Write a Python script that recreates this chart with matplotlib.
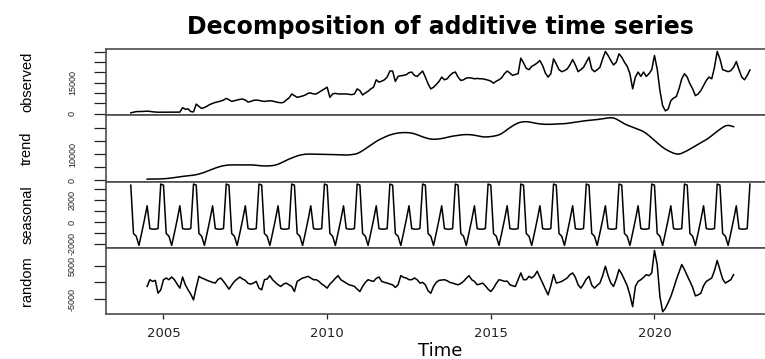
"""Additive decomposition of a monthly series, drawn in the style of R's plot.decomposed.ts."""

import matplotlib

matplotlib.use("Agg")
import matplotlib.pyplot as plt
import numpy as np
from matplotlib import font_manager

# --- data (monthly, Jan 2004 .. Dec 2022) -----------------------------------
START_YEAR = 2004
FREQUENCY = 12

OBSERVED = [
    500, 780, 1100, 1100, 1150, 1200, 1300, 1200, 1000, 900, 800, 800,
    800, 800, 800, 800, 800, 800, 850, 3000, 2230, 2400, 1100, 950,
    4700, 3570, 2600, 3080, 3730, 4540, 5030, 5520, 5840, 6160, 6650, 7470,
    6820, 6000, 6330, 6650, 6980, 7140, 6650, 5680, 6000, 6490, 6650, 6490,
    6160, 6000, 6160, 6330, 6160, 5840, 5520, 5350, 5520, 6650, 7630, 9580,
    8770, 7950, 8280, 8600, 9090, 9900, 10070, 9580, 9580, 10390, 11200, 12010,
    12830, 7950, 9580, 9900, 9580, 9580, 9580, 9580, 9420, 9250, 9580, 12010,
    11200, 9090, 10070, 10880, 12010, 12830, 16400, 15260, 15750, 16400, 17700, 20620,
    20620, 15590, 18030, 18350, 18510, 18840, 19810, 20140, 18510, 18030, 19320, 20620,
    17700, 14450, 12010, 12830, 14130, 15590, 17700, 16400, 16890, 18510, 19650, 20140,
    17700, 16070, 16400, 17210, 17370, 17210, 16890, 17050, 16890, 16890, 16560, 16240,
    15750, 14770, 15750, 16400, 17370, 19320, 20620, 19650, 18510, 19000, 19320, 26790,
    24520, 21920, 21270, 22890, 23540, 24520, 25650, 23220, 19650, 17700, 19320, 26460,
    24030, 21270, 20300, 20790, 21600, 23540, 26140, 23540, 20300, 21270, 22400, 24840,
    27270, 21600, 20300, 21270, 22400, 26460, 30030, 28080, 25650, 23540, 24840, 28890,
    27270, 24840, 22890, 19320, 12040, 17700, 20140, 18030, 20140, 18030, 19320, 21270,
    28080, 21600, 11200, 3900, 1460, 2270, 6330, 7630, 8280, 12040, 16880, 19320,
    17700, 14450, 12040, 8770, 9580, 11200, 13640, 16070, 17700, 16880, 22400, 30030,
    26460, 21270, 20790, 20300, 20790, 22400, 25160, 21270, 17700, 16400, 18510, 21100,
]

# centred 2x12 moving average: Jul 2004 .. Jun 2022
TREND_OFFSET = 6
TREND = [
    500, 510, 520, 540, 560, 590,
    640, 720, 820, 950, 1100, 1250, 1400, 1530, 1650, 1760, 1880, 2020,
    2200, 2450, 2750, 3100, 3500, 3900, 4300, 4700, 5050, 5350, 5600, 5750,
    5850, 5900, 5900, 5900, 5900, 5880, 5870, 5880, 5890, 5850, 5750, 5650,
    5550, 5520, 5510, 5550, 5650, 5850, 6150, 6600, 7100, 7600, 8100, 8500,
    8900, 9300, 9600, 9800, 9950, 10000, 10000, 9980, 9950, 9920, 9900, 9890,
    9880, 9860, 9820, 9780, 9720, 9660, 9640, 9650, 9700, 9800, 9950, 10200,
    10700, 11300, 12000, 12700, 13400, 14100, 14800, 15400, 15900, 16400, 16850, 17250,
    17550, 17800, 17980, 18100, 18150, 18150, 18100, 17950, 17700, 17350, 16950, 16550,
    16200, 15900, 15700, 15620, 15650, 15750, 15900, 16100, 16350, 16600, 16800, 16950,
    17100, 17250, 17350, 17400, 17380, 17300, 17150, 16950, 16750, 16550, 16500, 16550,
    16650, 16800, 17000, 17300, 17800, 18500, 19300, 20000, 20700, 21300, 21800, 22100,
    22250, 22300, 22200, 22000, 21800, 21600, 21450, 21350, 21300, 21300, 21300, 21350,
    21400, 21450, 21500, 21550, 21650, 21800, 21950, 22100, 22250, 22400, 22550, 22700,
    22800, 22900, 23000, 23100, 23250, 23400, 23550, 23700, 23780, 23700, 23300, 22700,
    22100, 21500, 21000, 20600, 20200, 19800, 19400, 19000, 18500, 17800, 17000, 16100,
    15200, 14300, 13400, 12600, 11900, 11300, 10800, 10350, 10050, 10000, 10300, 10800,
    11300, 11900, 12500, 13100, 13700, 14300, 14900, 15500, 16200, 17000, 17800, 18600,
    19400, 20100, 20700, 20900, 20700, 20400,
]

# seasonal figure, Jan .. Dec (repeats every year)
SEASONAL_FIGURE = [3400, -1050, -1300, -2150, -1000, 200, 1500, -600, -650, -650, -600, 3500]
N_YEARS = 19

RANDOM = [
    -1200, 800, 300, 600, -3200, -2200,
    800, 1300, 800, 1600, 800, -500, -1700, 1600, -700, -2200, -3500, -5200,
    -1500, 1800, 1300, 1000, 600, 300, 0, -200, 900, 1300, 300, -800,
    -2000, -800, 300, 1000, 1600, 1000, 600, -300, -500, -200, 300, -1700,
    -2200, 800, 1000, 2000, 800, 0, -700, -1200, -500, -200, -700, -1200,
    -2700, 300, 800, 1300, 1500, 1800, 1300, 800, 800, 300, -500, -1000,
    -1700, -500, 300, 1200, 2000, 800, 300, -200, -700, -900, -1200, -2000,
    -2700, -1200, 0, 800, 500, 300, 1200, 1600, 300, 0, -200, -500,
    -700, -1500, -700, 2000, 1500, 1300, 800, 800, 1300, 800, -200, 0,
    -700, -2500, -3200, -1200, 0, 600, 700, 800, 500, 0, -200, -500,
    -700, -300, 300, 1200, 2000, 800, 300, -700, -500, -200, -1000, -2000,
    -2700, -1700, -300, 800, 600, 300, 400, -700, -1000, -1200, 800, 2800,
    800, 800, 1800, 1300, 2000, 3300, 1500, -200, -2000, -3700, -1000, 2300,
    -200, 0, 300, 800, 1300, 2300, 2800, 1500, -700, -1700, -500, 1000,
    1800, -800, -1700, -900, -200, 2000, 4800, 2000, -200, -1200, 1000, 3800,
    2500, 800, -1000, -3700, -7200, -1200, 300, 800, 1500, 2300, 2000, 2800,
    9500, 5300, -4200, -8700, -7700, -6000, -4200, -1800, 800, 3000, 5300, 3800,
    2000, 300, -1500, -4000, -3700, -3200, -1000, 300, 800, 1300, 3500, 6500,
    3800, 1000, -200, 300, 800, 2300,
]

PANEL_NAMES = ["observed", "trend", "seasonal", "random"]
Y_TICKS = [
    [0, 5000, 10000, 15000, 20000, 25000, 30000],
    [0, 5000, 10000, 15000, 20000],
    [-2000, -1000, 0, 1000, 2000, 3000],
    [-5000, 0, 5000],
]
Y_TICK_LABELS = [
    ["0", "", "", "15000", "", "", ""],
    ["0", "", "10000", "", ""],
    ["-2000", "", "0", "", "2000", ""],
    ["-5000", "", "5000"],
]
X_TICKS = [2005, 2010, 2015, 2020]
TITLE = "Decomposition of additive time series"
X_LABEL = "Time"


def r_limits(values, frac=0.04):
    """Axis range padded the way R does it (4% on each side)."""
    lo, hi = float(np.min(values)), float(np.max(values))
    pad = (hi - lo) * frac
    return lo - pad, hi + pad


installed = {f.name for f in font_manager.fontManager.ttflist}
narrow_font = "Liberation Sans" if "Liberation Sans" in installed else "DejaVu Sans"

time_full = START_YEAR + np.arange(len(OBSERVED)) / FREQUENCY
time_trend = time_full[TREND_OFFSET:TREND_OFFSET + len(TREND)]
seasonal = SEASONAL_FIGURE * N_YEARS

series = [
    (time_full, OBSERVED),
    (time_trend, TREND),
    (time_full, seasonal),
    (time_trend, RANDOM),
]

fig = plt.figure(figsize=(7.65, 3.59), dpi=100)
fig.patch.set_facecolor("white")

# panel geometry in pixels (figure is 765 x 359); right frame edge falls off the image
left_px, width_px = 106.0, 668.7
panel_top_px, panel_h_px = 49.0, 66.3
fig_w, fig_h = 765.0, 359.0

axes = []
for i in range(4):
    bottom = 1 - (panel_top_px + (i + 1) * panel_h_px) / fig_h
    ax = fig.add_axes([left_px / fig_w, bottom, width_px / fig_w, panel_h_px / fig_h])
    axes.append(ax)

xlim = r_limits(time_full)

for i, (ax, (t, y), name) in enumerate(zip(axes, series, PANEL_NAMES)):
    ax.plot(t, y, color="black", linewidth=1.1)
    ax.set_xlim(*xlim)
    ax.set_ylim(*r_limits(y))

    ax.set_yticks(Y_TICKS[i])
    ax.set_yticklabels(Y_TICK_LABELS[i], rotation=90, va="center",
                       fontsize=6.5, family=narrow_font)
    ax.tick_params(axis="y", length=8.4, width=0.9, pad=12.5, colors="#222222")

    ax.set_ylabel(name, fontsize=10.5, family=narrow_font, va="center")
    ax.yaxis.set_label_coords(-0.118, 0.5)

    for spine in ax.spines.values():
        spine.set_color("#4d4d4d")
        spine.set_linewidth(1.2)

    if i < 3:
        ax.tick_params(axis="x", bottom=False, labelbottom=False)

bottom_ax = axes[-1]
bottom_ax.set_xticks(X_TICKS)
bottom_ax.set_xticklabels([str(x) for x in X_TICKS], fontsize=9.5, family="DejaVu Sans")
bottom_ax.tick_params(axis="x", length=3.6, width=0.9, pad=5.5, colors="#222222")
bottom_ax.set_xlabel(X_LABEL, fontsize=13, family="DejaVu Sans", va="center")
bottom_ax.xaxis.set_label_coords(0.5, -0.5535)

axes[0].set_title(TITLE, fontsize=17, fontweight="bold", family="DejaVu Sans",
                  y=1.23, pad=0)

fig.savefig("out.png", dpi=100, facecolor="white")
plt.close(fig)
